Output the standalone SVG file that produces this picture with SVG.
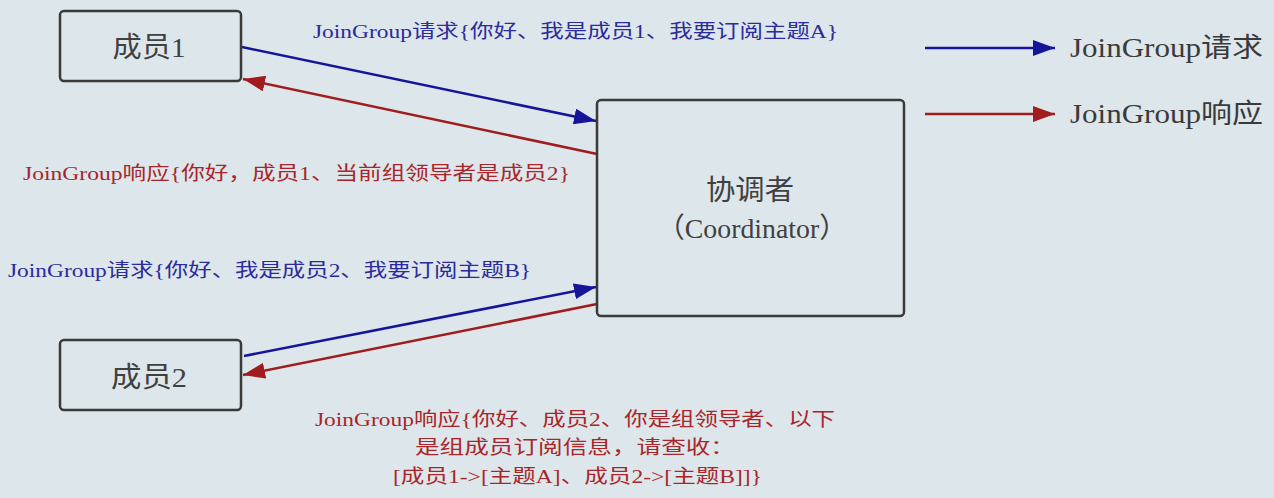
<svg xmlns="http://www.w3.org/2000/svg" width="1274" height="498" viewBox="0 0 1274 498">
<style>
.box{fill:#dde6eb;stroke:#3a3a3a;stroke-width:2.5}
.nt{font-family:"Liberation Serif","Noto Sans CJK SC",serif;fill:#404040;font-size:28px;text-anchor:middle}
.lb{font-family:"Liberation Serif","Noto Sans CJK SC",serif;font-size:19px}
.blue{fill:#2b2b9c}
.red{fill:#a8262b}
.lq{stroke:#15159a;stroke-width:2.5;fill:none}
.lr{stroke:#a01c1e;stroke-width:2.5;fill:none}
.lg{font-family:"Liberation Serif","Noto Sans CJK SC",serif;fill:#3a3a3a;font-size:27px}
</style>
<defs>
<marker id="abL" viewBox="0 0 10 10" refX="10" refY="5" markerWidth="22" markerHeight="16" markerUnits="userSpaceOnUse" orient="auto" preserveAspectRatio="none"><path d="M0,0L10,5L0,10z" fill="#15159a"/></marker>
<marker id="arL" viewBox="0 0 10 10" refX="10" refY="5" markerWidth="22" markerHeight="16" markerUnits="userSpaceOnUse" orient="auto" preserveAspectRatio="none"><path d="M0,0L10,5L0,10z" fill="#a01c1e"/></marker>
</defs>
<rect width="1274" height="498" fill="#dde6ea"/>
<g id="connectors">
<line class="lq" x1="242" y1="47" x2="596" y2="121" marker-end="url(#abL)"/>
<line class="lr" x1="597" y1="154" x2="243" y2="79" marker-end="url(#arL)"/>
<line class="lq" x1="244" y1="356" x2="596" y2="287" marker-end="url(#abL)"/>
<line class="lr" x1="597" y1="304" x2="243" y2="375" marker-end="url(#arL)"/>
</g>
<g id="member1">
<rect class="box" x="60" y="11" width="181" height="70" rx="4"/>
<text class="nt" x="149" y="57" textLength="73" lengthAdjust="spacingAndGlyphs">成员1</text>
</g>
<g id="member2">
<rect class="box" x="60" y="340" width="181" height="70" rx="4"/>
<text class="nt" x="149" y="387" textLength="76" lengthAdjust="spacingAndGlyphs">成员2</text>
</g>
<g id="coordinator">
<rect class="box" x="597" y="100" width="307" height="216" rx="4"/>
<text class="nt" x="750" y="200" textLength="88" lengthAdjust="spacingAndGlyphs">协调者</text>
<text class="nt" x="752" y="238" textLength="190" lengthAdjust="spacingAndGlyphs">（Coordinator）</text>
</g>
<g id="labels">
<text class="lb blue" x="313" y="38" textLength="525" lengthAdjust="spacingAndGlyphs">JoinGroup请求{你好、我是成员1、我要订阅主题A}</text>
<text class="lb red" x="23" y="180" textLength="547" lengthAdjust="spacingAndGlyphs">JoinGroup响应{你好，成员1、当前组领导者是成员2}</text>
<text class="lb blue" x="8" y="277" textLength="523" lengthAdjust="spacingAndGlyphs">JoinGroup请求{你好、我是成员2、我要订阅主题B}</text>
<text class="lb red" x="315" y="426" textLength="520" lengthAdjust="spacingAndGlyphs">JoinGroup响应{你好、成员2、你是组领导者、以下</text>
<text class="lb red" x="415" y="454" textLength="320" lengthAdjust="spacingAndGlyphs">是组成员订阅信息，请查收：</text>
<text class="lb red" x="393" y="483" textLength="369" lengthAdjust="spacingAndGlyphs">[成员1-&gt;[主题A]、成员2-&gt;[主题B]]}</text>
</g>
<g id="legend">
<line class="lq" x1="925" y1="48" x2="1055" y2="48" marker-end="url(#abL)"/>
<text class="lg" x="1070" y="57" textLength="193" lengthAdjust="spacingAndGlyphs">JoinGroup请求</text>
<line class="lr" x1="925" y1="114" x2="1055" y2="114" marker-end="url(#arL)"/>
<text class="lg" x="1070" y="123" textLength="193" lengthAdjust="spacingAndGlyphs">JoinGroup响应</text>
</g>
</svg>
